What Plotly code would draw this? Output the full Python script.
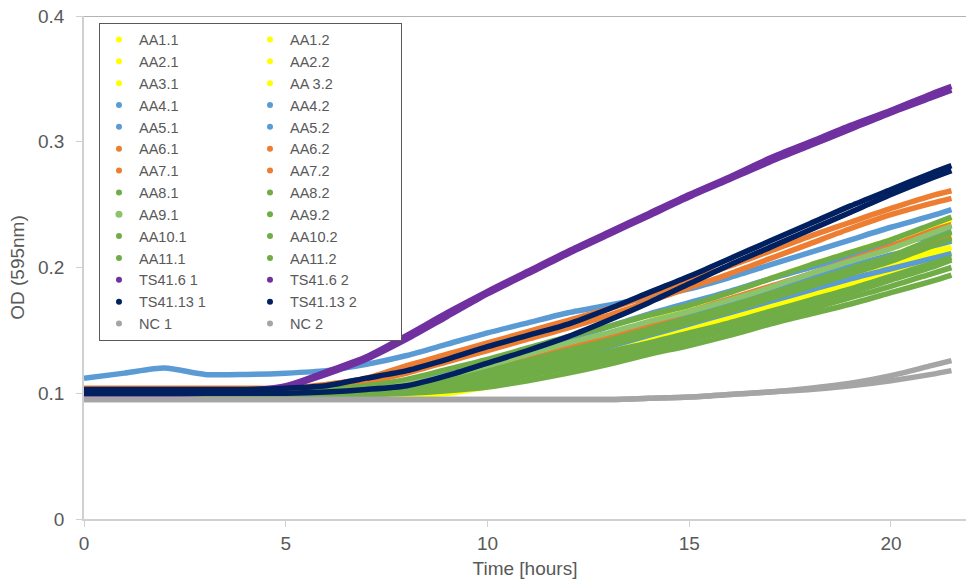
import plotly.graph_objects as go

# ---------------- data ----------------
hours = [0, 1, 2, 3, 4, 5, 6, 7, 8, 9, 10, 11, 12, 13, 14, 15, 16, 17, 18, 19, 20, 21, 21.5]

aa1_1 = [0.098, 0.098, 0.098, 0.098, 0.098, 0.098, 0.098, 0.099, 0.102, 0.108, 0.115, 0.124, 0.134, 0.145, 0.157, 0.169, 0.180, 0.191, 0.202, 0.212, 0.222, 0.233, 0.238]
aa1_2 = [0.097, 0.097, 0.097, 0.097, 0.097, 0.097, 0.097, 0.098, 0.101, 0.106, 0.112, 0.120, 0.129, 0.140, 0.151, 0.162, 0.173, 0.184, 0.195, 0.205, 0.215, 0.227, 0.233]
aa2_1 = [0.097, 0.097, 0.097, 0.097, 0.097, 0.097, 0.097, 0.097, 0.100, 0.104, 0.110, 0.117, 0.125, 0.134, 0.144, 0.155, 0.165, 0.175, 0.186, 0.196, 0.207, 0.219, 0.226]
aa2_2 = [0.097, 0.097, 0.097, 0.097, 0.097, 0.097, 0.097, 0.097, 0.099, 0.103, 0.108, 0.115, 0.123, 0.132, 0.141, 0.151, 0.161, 0.171, 0.181, 0.191, 0.201, 0.214, 0.221]
aa3_1 = [0.096, 0.097, 0.097, 0.097, 0.097, 0.097, 0.097, 0.097, 0.098, 0.101, 0.107, 0.114, 0.122, 0.131, 0.140, 0.149, 0.158, 0.168, 0.178, 0.188, 0.198, 0.210, 0.216]
aa3_2 = [0.096, 0.096, 0.096, 0.096, 0.096, 0.096, 0.096, 0.097, 0.098, 0.100, 0.105, 0.111, 0.119, 0.127, 0.136, 0.145, 0.154, 0.164, 0.174, 0.184, 0.194, 0.206, 0.212]
aa4_1 = [0.112, 0.116, 0.120, 0.115, 0.115, 0.116, 0.118, 0.123, 0.130, 0.139, 0.148, 0.156, 0.164, 0.170, 0.176, 0.183, 0.192, 0.202, 0.212, 0.222, 0.232, 0.241, 0.246]
aa4_2 = [0.102, 0.102, 0.102, 0.102, 0.102, 0.102, 0.103, 0.106, 0.110, 0.117, 0.125, 0.134, 0.143, 0.153, 0.163, 0.172, 0.181, 0.191, 0.200, 0.209, 0.218, 0.225, 0.229]
aa5_1 = [0.100, 0.100, 0.100, 0.100, 0.100, 0.100, 0.100, 0.101, 0.104, 0.108, 0.113, 0.120, 0.128, 0.137, 0.146, 0.155, 0.164, 0.173, 0.182, 0.191, 0.199, 0.207, 0.211]
aa5_2 = [0.101, 0.101, 0.101, 0.101, 0.101, 0.101, 0.101, 0.103, 0.106, 0.111, 0.118, 0.126, 0.135, 0.144, 0.154, 0.163, 0.172, 0.182, 0.192, 0.201, 0.210, 0.217, 0.221]
aa6_1 = [0.104, 0.104, 0.104, 0.104, 0.104, 0.104, 0.107, 0.112, 0.122, 0.131, 0.140, 0.149, 0.158, 0.167, 0.178, 0.190, 0.201, 0.213, 0.225, 0.236, 0.247, 0.257, 0.261]
aa6_2 = [0.103, 0.103, 0.103, 0.103, 0.103, 0.103, 0.105, 0.109, 0.116, 0.125, 0.134, 0.143, 0.152, 0.162, 0.173, 0.184, 0.195, 0.207, 0.219, 0.231, 0.242, 0.251, 0.255]
aa7_1 = [0.101, 0.101, 0.101, 0.101, 0.101, 0.101, 0.102, 0.104, 0.107, 0.112, 0.119, 0.127, 0.136, 0.145, 0.155, 0.165, 0.175, 0.185, 0.195, 0.206, 0.217, 0.229, 0.234]
aa7_2 = [0.100, 0.100, 0.100, 0.100, 0.100, 0.100, 0.100, 0.102, 0.104, 0.109, 0.115, 0.122, 0.130, 0.139, 0.148, 0.158, 0.168, 0.178, 0.188, 0.198, 0.208, 0.219, 0.224]
aa8_1 = [0.102, 0.102, 0.102, 0.102, 0.103, 0.102, 0.103, 0.106, 0.111, 0.119, 0.127, 0.136, 0.145, 0.153, 0.162, 0.170, 0.180, 0.191, 0.202, 0.212, 0.222, 0.234, 0.240]
aa8_2 = [0.101, 0.101, 0.101, 0.101, 0.101, 0.101, 0.101, 0.103, 0.106, 0.111, 0.118, 0.126, 0.134, 0.142, 0.151, 0.160, 0.169, 0.179, 0.189, 0.199, 0.209, 0.222, 0.228]
aa9_1 = [0.100, 0.100, 0.100, 0.100, 0.100, 0.100, 0.100, 0.102, 0.107, 0.114, 0.122, 0.131, 0.140, 0.148, 0.157, 0.165, 0.174, 0.184, 0.195, 0.205, 0.215, 0.227, 0.233]
aa9_2 = [0.100, 0.100, 0.100, 0.100, 0.100, 0.100, 0.100, 0.101, 0.104, 0.109, 0.115, 0.122, 0.130, 0.138, 0.147, 0.156, 0.165, 0.175, 0.185, 0.195, 0.205, 0.217, 0.223]
aa10_1 = [0.100, 0.100, 0.100, 0.100, 0.100, 0.100, 0.100, 0.101, 0.103, 0.107, 0.113, 0.119, 0.126, 0.133, 0.140, 0.148, 0.156, 0.165, 0.174, 0.183, 0.193, 0.203, 0.208]
aa10_2 = [0.099, 0.099, 0.099, 0.099, 0.099, 0.099, 0.099, 0.100, 0.102, 0.106, 0.111, 0.117, 0.123, 0.130, 0.137, 0.145, 0.153, 0.162, 0.171, 0.180, 0.190, 0.200, 0.206]
aa11_1 = [0.099, 0.099, 0.099, 0.099, 0.099, 0.099, 0.099, 0.099, 0.101, 0.104, 0.108, 0.114, 0.120, 0.127, 0.134, 0.142, 0.150, 0.158, 0.167, 0.176, 0.185, 0.195, 0.200]
aa11_2 = [0.099, 0.099, 0.099, 0.099, 0.099, 0.099, 0.099, 0.099, 0.100, 0.102, 0.105, 0.110, 0.116, 0.123, 0.131, 0.138, 0.146, 0.155, 0.163, 0.171, 0.180, 0.189, 0.194]
ts41_6_1 = [0.099, 0.099, 0.100, 0.100, 0.102, 0.106, 0.117, 0.129, 0.146, 0.164, 0.181, 0.197, 0.213, 0.228, 0.243, 0.258, 0.272, 0.287, 0.300, 0.313, 0.325, 0.338, 0.344]
ts41_6_2 = [0.099, 0.099, 0.099, 0.100, 0.101, 0.105, 0.115, 0.127, 0.143, 0.161, 0.179, 0.195, 0.211, 0.226, 0.241, 0.256, 0.270, 0.284, 0.297, 0.310, 0.323, 0.335, 0.341]
ts41_13_1 = [0.103, 0.103, 0.103, 0.103, 0.103, 0.104, 0.106, 0.112, 0.118, 0.127, 0.137, 0.146, 0.155, 0.167, 0.180, 0.193, 0.207, 0.221, 0.235, 0.249, 0.262, 0.275, 0.281]
ts41_13_2 = [0.100, 0.100, 0.100, 0.100, 0.100, 0.100, 0.101, 0.103, 0.106, 0.114, 0.124, 0.134, 0.145, 0.158, 0.172, 0.187, 0.202, 0.216, 0.230, 0.244, 0.258, 0.271, 0.277]
nc_1 = [0.095, 0.095, 0.095, 0.095, 0.095, 0.095, 0.095, 0.095, 0.095, 0.095, 0.095, 0.095, 0.095, 0.095, 0.096, 0.097, 0.099, 0.101, 0.104, 0.108, 0.114, 0.122, 0.126]
nc_2 = [0.095, 0.095, 0.095, 0.095, 0.095, 0.095, 0.095, 0.095, 0.095, 0.095, 0.095, 0.095, 0.095, 0.095, 0.096, 0.097, 0.099, 0.101, 0.103, 0.106, 0.110, 0.115, 0.118]

series_names = ["AA1.1", "AA1.2", "AA2.1", "AA2.2", "AA3.1", "AA 3.2",
                "AA4.1", "AA4.2", "AA5.1", "AA5.2", "AA6.1", "AA6.2",
                "AA7.1", "AA7.2", "AA8.1", "AA8.2", "AA9.1", "AA9.2",
                "AA10.1", "AA10.2", "AA11.1", "AA11.2", "TS41.6 1", "TS41.6 2",
                "TS41.13 1", "TS41.13 2", "NC 1", "NC 2"]
series_values = [aa1_1, aa1_2, aa2_1, aa2_2, aa3_1, aa3_2,
                 aa4_1, aa4_2, aa5_1, aa5_2, aa6_1, aa6_2,
                 aa7_1, aa7_2, aa8_1, aa8_2, aa9_1, aa9_2,
                 aa10_1, aa10_2, aa11_1, aa11_2, ts41_6_1, ts41_6_2,
                 ts41_13_1, ts41_13_2, nc_1, nc_2]

YEL, BLU, ORA, GRN, LGR, PUR, NAV, GRY = ("#FFFF00", "#5B9BD5", "#ED7D31", "#70AD47",
                                         "#8CC46C", "#7030A0", "#002060", "#A5A5A5")
series_colors = [YEL, YEL, YEL, YEL, YEL, YEL,
                 BLU, BLU, BLU, BLU, ORA, ORA,
                 ORA, ORA, GRN, GRN, LGR, GRN,
                 GRN, GRN, GRN, GRN, PUR, PUR,
                 NAV, NAV, GRY, GRY]

FONT = "Liberation Sans, Arial, sans-serif"
TXT = "#595959"
AXC = "#D0D0D0"

fig = go.Figure()

# data curves
for name, vals, col in zip(series_names, series_values, series_colors):
    fig.add_trace(go.Scatter(
        x=hours, y=vals, mode="lines", name=name,
        line=dict(color=col, width=5.5, shape="spline", smoothing=0.7),
        showlegend=False, hoverinfo="x+y+name"))

# legend entries (dot symbols), two columns
for i, (name, col) in enumerate(zip(series_names, series_colors)):
    fig.add_trace(go.Scatter(
        x=[None], y=[None], mode="markers", name=name,
        marker=dict(color=col, size=7 if name == "AA9.1" else 6),
        legendgroup="col1" if i % 2 == 0 else "col2",
        showlegend=True))

fig.add_shape(type="line", xref="paper", yref="y", x0=0, x1=1, y0=0.4, y1=0.4,
              line=dict(color="#9A9A9A", width=1.5), layer="below")

fig.update_layout(
    width=966, height=588,
    margin=dict(l=84, r=0, t=16, b=69),
    paper_bgcolor="white", plot_bgcolor="white",
    font=dict(family=FONT, color=TXT, size=18),
    legend=dict(
        orientation="h", traceorder="grouped",
        x=0.017, y=0.987, xanchor="left", yanchor="top",
        bgcolor="white", bordercolor="#595959", borderwidth=1,
        font=dict(family=FONT, size=14.5, color=TXT),
        entrywidth=106, entrywidthmode="pixels",
        itemwidth=30, tracegroupgap=0,
        maxheight=450,
    ),
    xaxis=dict(
        range=[0, 21.86], dtick=5, tick0=0,
        showgrid=False, zeroline=False,
        showline=True, linecolor=AXC, linewidth=1.5,
        ticks="outside", ticklen=6, tickcolor=AXC, tickwidth=1,
        tickfont=dict(size=19, color=TXT, family=FONT),
        title=dict(text="Time [hours]", font=dict(size=19, color=TXT, family=FONT), standoff=9),
    ),
    yaxis=dict(
        range=[0, 0.4], dtick=0.1, tick0=0,
        showgrid=False, zeroline=False,
        showline=True, linecolor=AXC, linewidth=1.5,
        ticks="outside", ticklen=6, tickcolor=AXC, tickwidth=1,
        tickfont=dict(size=19, color=TXT, family=FONT),
        ticklabelstandoff=8,
        title=dict(text="OD (595nm)", font=dict(size=19, color=TXT, family=FONT), standoff=8),
    ),
)

fig.write_html("out.html")
